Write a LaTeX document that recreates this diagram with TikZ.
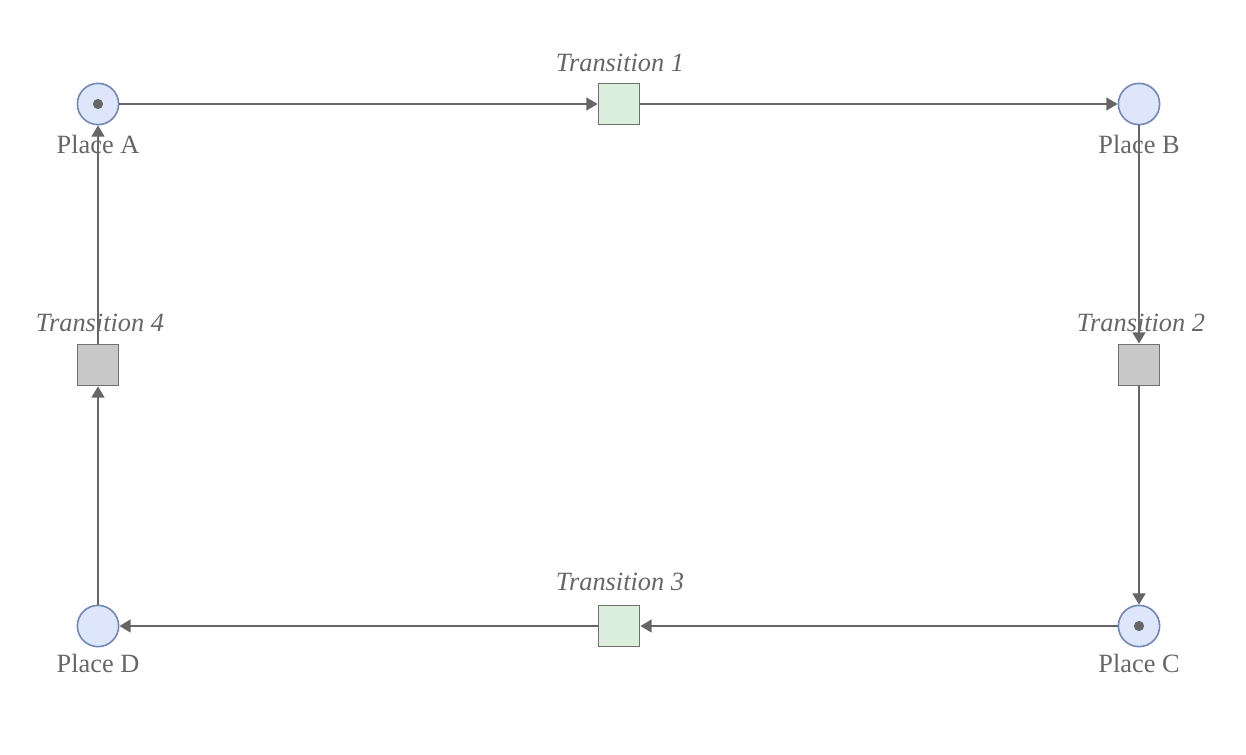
\documentclass[tikz,border=0pt]{standalone}
\usepackage{fontspec}
\setmainfont{Liberation Serif}
\usetikzlibrary{arrows.meta}

\definecolor{placefill}{HTML}{DDE6FB}
\definecolor{placeedge}{HTML}{7085B8}
\definecolor{transgreen}{HTML}{DCEFDC}
\definecolor{transgray}{HTML}{C8C8C8}
\definecolor{transedge}{HTML}{707070}
\definecolor{arcgray}{HTML}{666666}
\definecolor{textgray}{HTML}{666666}

\tikzset{
  place/.style={circle,draw=placeedge,fill=placefill,line width=0.9pt,
    minimum size=23.5pt,inner sep=0pt},
  transgreen/.style={rectangle,draw=transedge,fill=transgreen,line width=0.9pt,
    minimum size=23.5pt,inner sep=0pt},
  transgray/.style={transgreen,fill=transgray},
  token/.style={circle,fill=arcgray,minimum size=5.8pt,inner sep=0pt},
  placename/.style={text=textgray,font=\fontsize{15}{18}\selectfont},
  transname/.style={text=textgray,font=\fontsize{15}{18}\selectfont\itshape},
  arc/.style={draw=arcgray,line width=1pt,-{Triangle[length=6.4pt,width=7.4pt]}}
}

\begin{document}
\begin{tikzpicture}[x=0.02cm,y=-0.02cm]
  \useasboundingbox (0,0) rectangle (1246,754);
  % labels
  \node[placename] (lA) at (98,144) {Place A};
  \node[placename] (lB) at (1139,144) {Place B};
  \node[placename] (lC) at (1139,663) {Place C};
  \node[placename] (lD) at (98,663) {Place D};
  \node[transname] (l1) at (620,63) {Transition 1};
  \node[transname] (l2) at (1141,323) {Transition 2};
  \node[transname] (l3) at (620,582) {Transition 3};
  \node[transname] (l4) at (100,323) {Transition 4};
  % places and transitions
  \node[place] (A) at (98,104) {};
  \node[place] (B) at (1139,104) {};
  \node[place] (C) at (1139,626) {};
  \node[place] (D) at (98,626) {};
  \node[token] (tA) at (A) {};
  \node[token] (tC) at (C) {};
  \node[transgreen] (t1) at (619,104) {};
  \node[transgray] (t2) at (1139,365) {};
  \node[transgreen] (t3) at (619,626) {};
  \node[transgray] (t4) at (98,365) {};
  % arcs
  \draw[arc] (A) -- (t1);
  \draw[arc] (t1) -- (B);
  \draw[arc] (B) -- (t2);
  \draw[arc] (t2) -- (C);
  \draw[arc] (C) -- (t3);
  \draw[arc] (t3) -- (D);
  \draw[arc] (D) -- (t4);
  \draw[arc] (t4) -- (A);
\end{tikzpicture}
\end{document}
